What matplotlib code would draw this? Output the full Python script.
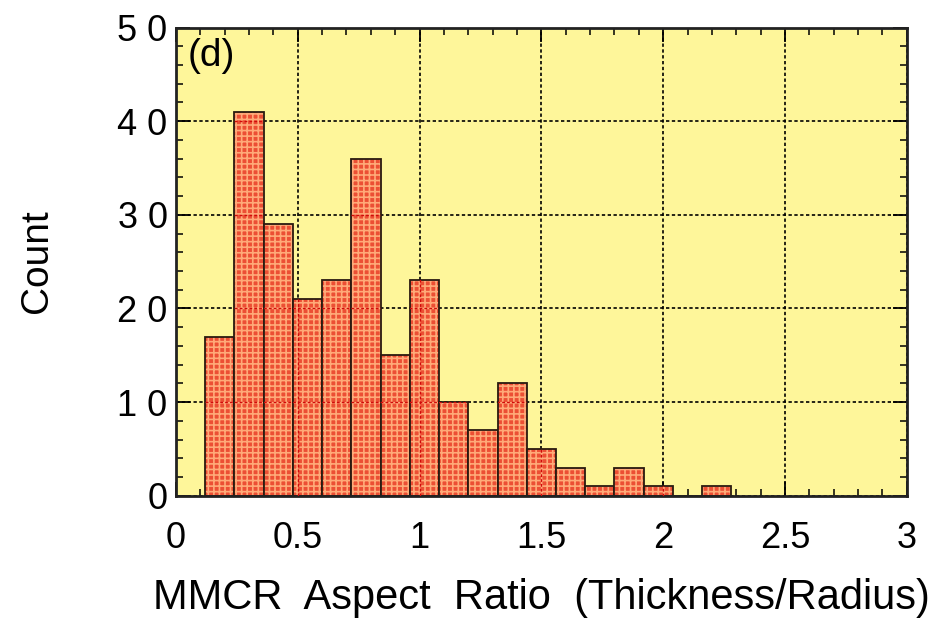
import matplotlib
matplotlib.use("Agg")
import matplotlib.pyplot as plt
import numpy as np

# Data
bin_edges = [0.12, 0.24, 0.36, 0.48, 0.60, 0.72, 0.84, 0.96, 1.08, 1.20,
             1.32, 1.44, 1.56, 1.68, 1.80, 1.92, 2.04, 2.16, 2.28]
counts = [17, 41, 29, 21, 23, 36, 15, 23, 10, 7, 12, 5, 3, 1, 3, 1, 0, 1]
xticks = [0, 0.5, 1, 1.5, 2, 2.5, 3]
xticklabels = ["0", "0.5", "1", "1.5", "2", "2.5", "3"]
yticks = [0, 10, 20, 30, 40, 50]
yticklabels = ["0", "1 0", "2 0", "3 0", "4 0", "5 0"]

plt.rcParams['font.family'] = ['Liberation Sans', 'DejaVu Sans']
plt.rcParams['hatch.linewidth'] = 1.2

fig = plt.figure(figsize=(9.3, 6.21), dpi=100)
ax = fig.add_axes([0.1892, 0.2018, 0.7858, 0.7539])
ax.set_facecolor('#FEF69A')

edges = np.array(bin_edges)
lefts = edges[:-1]
widths = np.diff(edges)
bars = ax.bar(lefts, counts, width=widths, align='edge', color='#EC4F34',
              edgecolor='#2a1a10', linewidth=1.3, zorder=2,
              hatch='+++')
for b in bars:
    b._hatch_color = matplotlib.colors.to_rgba('#FFAA78')

ax.set_xlim(0, 3)
ax.set_ylim(0, 50)
ax.set_xticks(xticks)
ax.set_xticklabels(xticklabels)
ax.set_yticks(yticks)
ax.set_yticklabels(yticklabels)
ax.set_xticks(np.arange(0, 3.001, 0.1), minor=True)
ax.set_yticks(np.arange(0, 50.001, 2), minor=True)

ax.grid(True, which='major', color='black', linestyle=(0, (2, 1.5)),
        linewidth=1.2, zorder=1)
ax.set_axisbelow(True)

# red grid lines visible through the bars
for b in bars:
    for xv in xticks[1:-1]:
        ln = ax.axvline(xv, color='#D00A0A', linestyle=(0, (2, 1.5)), linewidth=1.0, zorder=3)
        ln.set_clip_path(b)
    for yv in yticks[1:-1]:
        ln = ax.axhline(yv, color='#D00A0A', linestyle=(0, (2, 1.5)), linewidth=1.0, zorder=3)
        ln.set_clip_path(b)

ax.tick_params(which='both', direction='in', top=True, right=True)
ax.tick_params(which='major', length=10, width=1.3, labelsize=26)
ax.tick_params(axis='x', which='major', pad=18)
ax.tick_params(axis='y', which='major', pad=6)
ax.tick_params(which='minor', length=5, width=1.1)
for s in ax.spines.values():
    s.set_linewidth(2)
    s.set_color('#222222')

ax.set_xlabel('MMCR  Aspect  Ratio  (Thickness/Radius)', fontsize=30, labelpad=16)
ax.set_ylabel('Count', fontsize=28, labelpad=45)
ax.text(0.016, 0.978, '(d)', transform=ax.transAxes, fontsize=28,
        va='top', ha='left', zorder=5)

fig.savefig('out.png', dpi=100)
